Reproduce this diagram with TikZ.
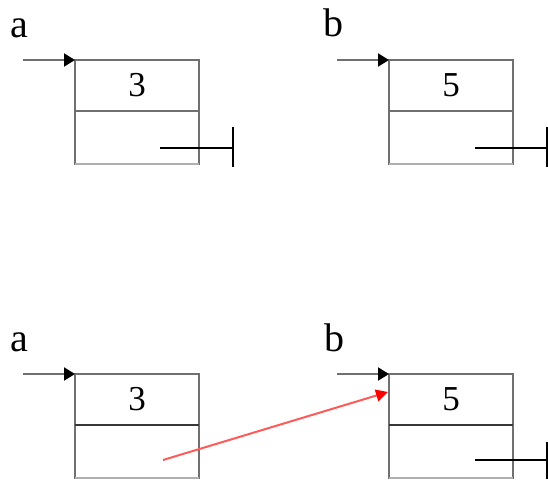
\documentclass[tikz,border=0pt]{standalone}
\usepackage{fontspec}
\setmainfont{Liberation Serif}
\usetikzlibrary{arrows.meta}
\definecolor{boxgray}{RGB}{112,112,112}
\definecolor{lightedge}{RGB}{175,175,175}
\definecolor{darkdiv}{RGB}{55,55,55}
\definecolor{ptrred}{RGB}{255,90,90}
\tikzset{
  cellbox/.style={draw=boxgray, line width=2pt, minimum width=124pt, inner sep=0pt, outer sep=0pt, font=\fontsize{35}{37}\selectfont},
  valcell/.style={cellbox, minimum height=51pt},
  nextcell/.style={cellbox, minimum height=53pt},
  lbl/.style={inner sep=0pt, font=\fontsize{40}{42}\selectfont},
  ptr/.style={draw=boxgray, line width=2pt, -{Triangle[length=11pt,width=13pt,fill=black,color=black]}},
  redptr/.style={draw=ptrred, line width=2pt, -{Triangle[length=12pt,width=12pt,color=red]}},
  nilline/.style={draw=black, line width=2.5pt},
  lightline/.style={draw=lightedge, line width=2pt},
  darkline/.style={draw=darkdiv, line width=2pt}
}
\begin{document}
\begin{tikzpicture}[x=1pt,y=-1pt]
\useasboundingbox (0,0) rectangle (548,479);
% ---------- top row ----------
\node[lbl] (la1) at (19.5,28.5) {a};
\node[valcell] (aval1) at (137,85.5) {3};
\node[nextcell] (anext1) at (137,137.5) {};
\draw[lightline] (anext1.south west) -- (anext1.south east);
\coordinate (ain1) at (23,60);
\draw[ptr] (ain1) -- (aval1.north west);
\coordinate (anil1) at (160,148);
\coordinate (anilend1) at (233,148);
\coordinate (anilt1) at (233,127);
\coordinate (anilb1) at (233,167);
\draw[nilline] (anil1) -- (anilend1);
\draw[nilline] (anilt1) -- (anilb1);

\node[lbl] (lb1) at (333.5,22.5) {b};
\node[valcell] (bval1) at (451,85.5) {5};
\node[nextcell] (bnext1) at (451,137.5) {};
\draw[lightline] (bnext1.south west) -- (bnext1.south east);
\coordinate (bin1) at (337,60);
\draw[ptr] (bin1) -- (bval1.north west);
\coordinate (bnil1) at (475,148);
\coordinate (bnilend1) at (547,148);
\coordinate (bnilt1) at (547,127);
\coordinate (bnilb1) at (547,167);
\draw[nilline] (bnil1) -- (bnilend1);
\draw[nilline] (bnilt1) -- (bnilb1);

% ---------- bottom row ----------
\node[lbl] (la2) at (19.5,342.5) {a};
\node[valcell] (aval2) at (137,399.5) {3};
\node[nextcell] (anext2) at (137,451.5) {};
\draw[lightline] (anext2.south west) -- (anext2.south east);
\draw[darkline] (aval2.south west) -- (aval2.south east);
\coordinate (ain2) at (23,374);
\draw[ptr] (ain2) -- (aval2.north west);

\node[lbl] (lb2) at (334,337.5) {b};
\node[valcell] (bval2) at (451,399.5) {5};
\node[nextcell] (bnext2) at (451,451.5) {};
\draw[lightline] (bnext2.south west) -- (bnext2.south east);
\draw[darkline] (bval2.south west) -- (bval2.south east);
\coordinate (bin2) at (337,374);
\draw[ptr] (bin2) -- (bval2.north west);
\coordinate (bnil2) at (475,460);
\coordinate (bnilend2) at (547,460);
\coordinate (bnilt2) at (547,442);
\coordinate (bnilb2) at (547,479);
\draw[nilline] (bnil2) -- (bnilend2);
\draw[nilline] (bnilt2) -- (bnilb2);

% red link
\coordinate (rstart) at (163,460);
\coordinate (rend) at (388,392);
\draw[redptr] (rstart) -- (rend);
\end{tikzpicture}
\end{document}
